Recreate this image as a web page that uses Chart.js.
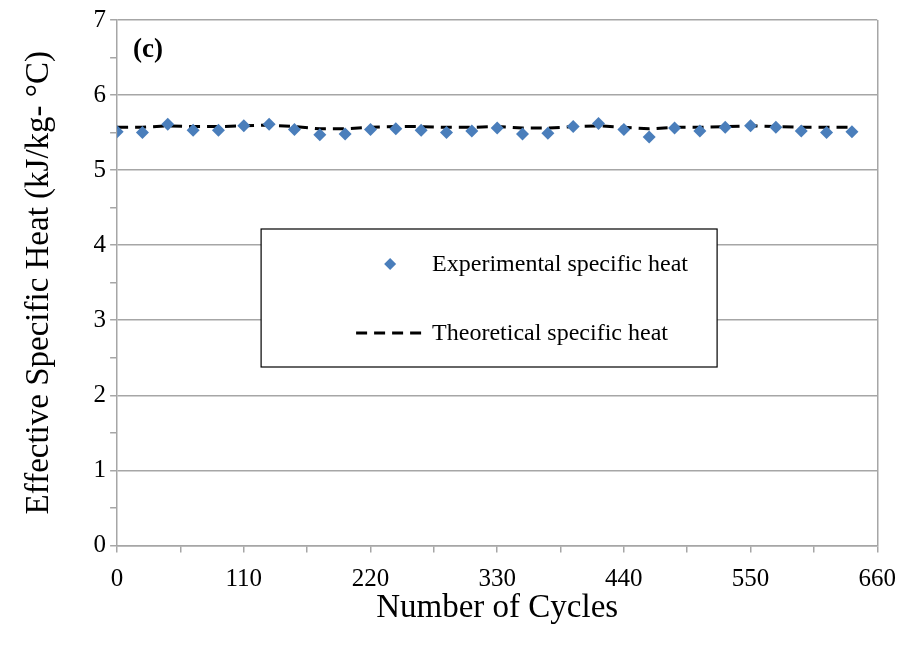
<!DOCTYPE html>
<html>
<head>
<meta charset="utf-8">
<script src="https://cdn.jsdelivr.net/npm/chart.js@4.4.1/dist/chart.umd.min.js"></script>
<style>
  html, body { margin: 0; padding: 0; background: #fff; }
  #wrap { width: 908px; height: 656px; position: relative; }
</style>
</head>
<body>
<div id="wrap"><canvas id="myChart"></canvas></div>
<script>
// cycle numbers where the specific heat was measured
const cycles = [0, 22, 44, 66, 88, 110, 132, 154, 176, 198, 220, 242, 264, 286, 308,
                330, 352, 374, 396, 418, 440, 462, 484, 506, 528, 550, 572, 594, 616, 638];

// measured values (kJ/kg-°C)
const experimental = [5.51, 5.50, 5.61, 5.53, 5.53, 5.59, 5.61, 5.54, 5.47, 5.48,
                      5.54, 5.55, 5.53, 5.50, 5.52, 5.56, 5.48, 5.49, 5.58, 5.62,
                      5.54, 5.44, 5.56, 5.52, 5.57, 5.59, 5.57, 5.52, 5.50, 5.51];

// calculated values (kJ/kg-°C)
const theoretical = [5.57, 5.57, 5.59, 5.58, 5.58, 5.59, 5.60, 5.58, 5.55, 5.55,
                     5.57, 5.58, 5.58, 5.57, 5.57, 5.58, 5.56, 5.56, 5.58, 5.59,
                     5.57, 5.55, 5.57, 5.57, 5.58, 5.59, 5.58, 5.57, 5.57, 5.57];

const xTicks = [0, 110, 220, 330, 440, 550, 660];
const yTicks = [0, 1, 2, 3, 4, 5, 6, 7];

const seriesNames = ['Experimental specific heat', 'Theoretical specific heat'];
const panelLabel = '(c)';

const GRID = '#a6a6a6';
const FONT = "'Liberation Serif', 'Times New Roman', serif";

// legend box inside the plot + panel letter
const boxLegend = {
  id: 'boxLegend',
  afterDraw(chart) {
    const ctx = chart.ctx;
    const a = chart.chartArea;
    const bx = a.left + 144, by = a.top + 209, bw = 456, bh = 138;
    ctx.save();
    ctx.fillStyle = '#fff';
    ctx.fillRect(bx, by, bw, bh);
    ctx.strokeStyle = '#000';
    ctx.lineWidth = 1.2;
    ctx.strokeRect(bx, by, bw, bh);

    ctx.font = '24px ' + FONT;
    ctx.fillStyle = '#000';
    ctx.textBaseline = 'middle';
    const tx = bx + 171;

    // diamond marker
    const ds0 = chart.data.datasets[0];
    const my = by + 35;
    ctx.fillStyle = ds0.backgroundColor;
    ctx.beginPath();
    ctx.moveTo(bx + 129 - 6, my);
    ctx.lineTo(bx + 129, my - 6);
    ctx.lineTo(bx + 129 + 6, my);
    ctx.lineTo(bx + 129, my + 6);
    ctx.closePath();
    ctx.fill();
    ctx.fillStyle = '#000';
    ctx.fillText(seriesNames[0], tx, my + 1);

    // dashed line sample
    const ly = by + 104;
    ctx.strokeStyle = '#000';
    ctx.lineWidth = 3;
    ctx.setLineDash([11, 7]);
    ctx.beginPath();
    ctx.moveTo(bx + 95, ly);
    ctx.lineTo(bx + 166, ly);
    ctx.stroke();
    ctx.setLineDash([]);
    ctx.fillText(seriesNames[1], tx, ly + 1);

    // panel letter
    ctx.font = 'bold 27px ' + FONT;
    ctx.fillText(panelLabel, a.left + 16, a.top + 30);
    ctx.restore();
  }
};

const ctx = document.getElementById('myChart').getContext('2d');

new Chart(ctx, {
  type: 'line',
  data: {
    datasets: [{
      label: seriesNames[0],
      data: cycles.map((c, i) => ({ x: c, y: experimental[i] })),
      showLine: false,
      pointStyle: 'rectRot',
      pointRadius: 6.5,
      pointHoverRadius: 6.5,
      backgroundColor: '#4a7ebb',
      borderColor: '#4a7ebb',
      pointBorderWidth: 0
    }, {
      label: seriesNames[1],
      data: cycles.map((c, i) => ({ x: c, y: theoretical[i] })),
      borderColor: '#000',
      borderWidth: 3,
      borderDash: [11, 7],
      pointRadius: 0,
      tension: 0,
      fill: false
    }]
  },
  options: {
    responsive: true,
    maintainAspectRatio: false,
    animation: false,
    layout: { padding: { top: 20, right: 26, left: 20, bottom: 28 } },
    plugins: {
      legend: { display: false },
      tooltip: { enabled: false }
    },
    scales: {
      x: {
        type: 'linear',
        min: 0,
        max: 660,
        afterBuildTicks: axis => {
          // majors every 110, minor tick marks halfway
          const t = [];
          for (let v = 0; v <= 660; v += 55) t.push({ value: v });
          axis.ticks = t;
        },
        ticks: {
          autoSkip: false,
          maxRotation: 0,
          color: '#000',
          font: { family: FONT, size: 25 },
          padding: 12,
          callback: v => (xTicks.includes(v) ? String(v) : '')
        },
        grid: {
          color: c => (c.tick && c.tick.value === 660 ? GRID : 'rgba(0,0,0,0)'),
          tickColor: GRID,
          lineWidth: 1.5,
          tickLength: 7
        },
        border: { color: GRID, width: 1.5 },
        title: {
          display: true,
          text: 'Number of Cycles',
          color: '#000',
          font: { family: FONT, size: 33 },
          padding: { top: -18, bottom: 0 }
        }
      },
      y: {
        min: 0,
        max: 7,
        afterBuildTicks: axis => {
          const t = [];
          for (let v = 0; v <= 7; v += 0.5) t.push({ value: v });
          axis.ticks = t;
        },
        ticks: {
          autoSkip: false,
          color: '#000',
          font: { family: FONT, size: 25 },
          padding: 4,
          callback: v => (yTicks.includes(v) ? String(v) : '')
        },
        grid: {
          color: c => (c.tick && Number.isInteger(c.tick.value) ? GRID : 'rgba(0,0,0,0)'),
          tickColor: GRID,
          lineWidth: 1.5,
          tickLength: 7
        },
        border: { color: GRID, width: 1.5 },
        title: {
          display: true,
          text: 'Effective Specific Heat (kJ/kg- °C)',
          color: '#000',
          font: { family: FONT, size: 33 },
          padding: { top: 0, bottom: 30 }
        }
      }
    }
  },
  plugins: [boxLegend]
});
</script>
</body>
</html>
